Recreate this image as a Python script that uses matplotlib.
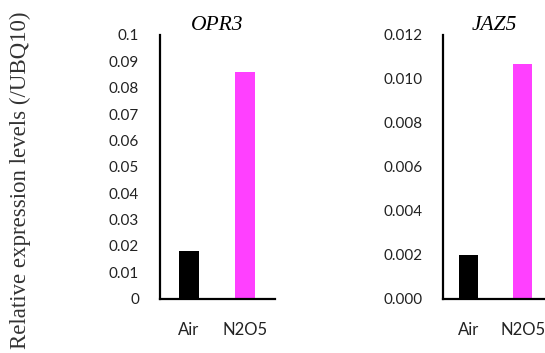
import matplotlib.pyplot as plt

# ---------------- Data ----------------
conditions = ["Air", "N2O5"]
opr3_values = [0.018, 0.086]
jaz5_values = [0.0020, 0.0107]
bar_colors = ["#000000", "#FF40FF"]

opr3_ticks = [0, 0.01, 0.02, 0.03, 0.04, 0.05, 0.06, 0.07, 0.08, 0.09, 0.1]
opr3_ticklabels = ["0", "0.01", "0.02", "0.03", "0.04", "0.05", "0.06", "0.07", "0.08", "0.09", "0.1"]
jaz5_ticks = [0, 0.002, 0.004, 0.006, 0.008, 0.010, 0.012]

W, H = 545, 353
fig = plt.figure(figsize=(W / 100, H / 100), dpi=100)

tick_font = "Lato"


def make_panel(left, right, values, ticks, labels, ylim, xlim, title):
    ax = fig.add_axes([left / W, 1 - 298.5 / H, (right - left) / W, (298.5 - 35) / H])
    ax.bar(range(len(conditions)), values, width=0.35, color=bar_colors)
    ax.set_ylim(*ylim)
    ax.set_xlim(*xlim)
    ax.set_yticks(ticks)
    ax.set_yticklabels(labels, fontfamily=tick_font, fontsize=11, color="#222222")
    ax.set_xticks(range(len(conditions)))
    ax.set_xticklabels(conditions, fontfamily=tick_font, fontsize=12, color="#222222")
    ax.tick_params(axis="y", length=0, pad=15)
    ax.tick_params(axis="x", length=0, pad=17)
    for side in ["top", "right"]:
        ax.spines[side].set_visible(False)
    for side in ["left", "bottom"]:
        ax.spines[side].set_linewidth(1.6)
    ax.set_title(title, fontfamily="Liberation Serif", style="italic",
                 fontsize=15.5, pad=-1)
    return ax


make_panel(160, 275, opr3_values, opr3_ticks, opr3_ticklabels,
           (0, 0.1), (-0.51, 1.53), "OPR3")
make_panel(443, 545, jaz5_values, jaz5_ticks,
           [f"{t:.3f}" for t in jaz5_ticks], (0, 0.012), (-0.48, 1.41), "JAZ5")

fig.text(20 / W, 0.49, "Relative expression levels (/UBQ10)", rotation=90,
         ha="center", va="center", fontfamily="Liberation Serif", fontsize=16.5,
         color="#333333")

fig.savefig("out.png", dpi=100)
